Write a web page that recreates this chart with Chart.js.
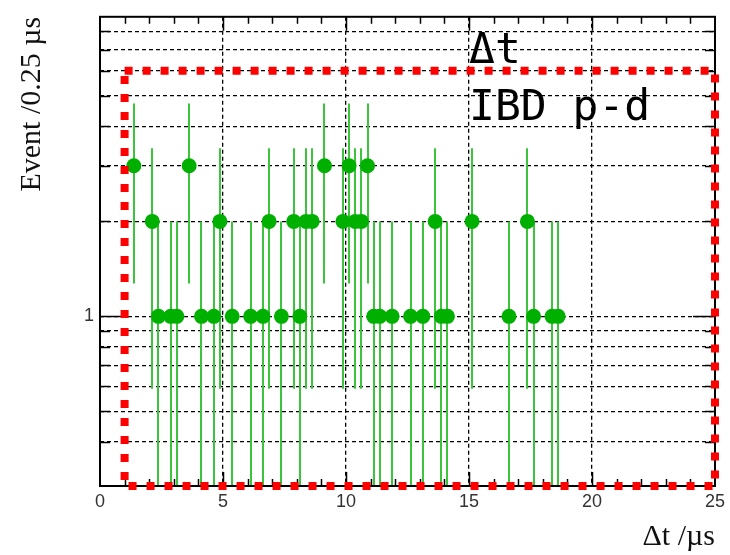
<!DOCTYPE html>
<html>
<head>
<meta charset="utf-8">
<script src="https://cdn.jsdelivr.net/npm/chart.js@4.4.1/dist/chart.umd.min.js"></script>
<style>
html, body { margin: 0; padding: 0; background: #fff; }
</style>
</head>
<body>
<canvas id="dtChart" width="730" height="555"></canvas>
<script>
// bin centres of the 0.25 us bins that have entries
var binCentres = [1.375, 2.125, 2.375, 2.875, 3.125, 3.625, 4.125, 4.625, 4.875, 5.375,
                  6.125, 6.625, 6.875, 7.375, 7.875, 8.125, 8.375, 8.625, 9.125, 9.875,
                  10.125, 10.375, 10.625, 10.875, 11.125, 11.375, 11.875, 12.625, 13.125, 13.625,
                  13.875, 14.125, 15.125, 16.625, 17.375, 17.625, 18.375, 18.625];
// events in each bin
var counts = [3, 2, 1, 1, 1, 3, 1, 1, 2, 1,
              1, 1, 2, 1, 2, 1, 2, 2, 3, 2,
              3, 2, 2, 3, 1, 1, 1, 1, 1, 2,
              1, 1, 2, 1, 2, 1, 1, 1];
// error bar half length
var errors = [1.73, 1.41, 1, 1, 1, 1.73, 1, 1, 1.41, 1,
              1, 1, 1.41, 1, 1.41, 1, 1.41, 1.41, 1.73, 1.41,
              1.73, 1.41, 1.41, 1.73, 1, 1, 1, 1, 1, 1.41,
              1, 1, 1.41, 1, 1.41, 1, 1, 1];

var xTickLabels = [0, 5, 10, 15, 20, 25];
var yGridValues = [0.4, 0.5, 0.6, 0.7, 0.8, 0.9, 1, 2, 3, 4, 5, 6, 7, 8];
var yLabelled = [1];
var cutBox = [1, 25, 0.29, 6];   // xmin, xmax, ymin, ymax of the red dashed box
var boxTexts = ['\u0394t', 'IBD p-d'];

// error bars drawn under the markers
var errorBars = {
    id: 'errorBars',
    beforeDatasetsDraw: function(chart) {
        var c = chart.ctx, a = chart.chartArea;
        var xs = chart.scales.x, ys = chart.scales.y;
        c.save();
        c.beginPath();
        c.rect(a.left, a.top, a.right - a.left, a.bottom - a.top);
        c.clip();
        c.strokeStyle = '#3cc43c';
        c.lineWidth = 2;
        for (var i = 0; i < binCentres.length; i++) {
            var px = Math.round(xs.getPixelForValue(binCentres[i]));
            var lo = counts[i] - errors[i];
            var yTop = ys.getPixelForValue(counts[i] + errors[i]);
            var yBot = lo > 0 ? ys.getPixelForValue(lo) : a.bottom;
            c.beginPath();
            c.moveTo(px, yTop);
            c.lineTo(px, yBot);
            c.stroke();
        }
        c.restore();
    }
};

// frame and inward ticks, like a ROOT canvas
var rootFrame = {
    id: 'rootFrame',
    afterDatasetsDraw: function(chart) {
        var c = chart.ctx, a = chart.chartArea;
        var xs = chart.scales.x, ys = chart.scales.y;
        c.save();
        c.strokeStyle = '#000';
        c.lineWidth = 1.5;
        c.beginPath();
        for (var t = 1; t < 25; t++) {
            var px = Math.round(xs.getPixelForValue(t)) + 0.5;
            var len = (t % 5 === 0) ? 14 : 7;
            c.moveTo(px, a.bottom); c.lineTo(px, a.bottom - len);
            c.moveTo(px, a.top); c.lineTo(px, a.top + len);
        }
        yGridValues.forEach(function(v) {
            var py = Math.round(ys.getPixelForValue(v)) + 0.5;
            var len = yLabelled.indexOf(v) >= 0 ? 22 : 10;
            c.moveTo(a.left, py); c.lineTo(a.left + len, py);
            c.moveTo(a.right, py); c.lineTo(a.right - len, py);
        });
        c.stroke();
        c.lineWidth = 2;
        c.strokeRect(a.left, a.top, a.right - a.left, a.bottom - a.top);
        c.restore();
    },
    afterDraw: function(chart) {
        var c = chart.ctx, a = chart.chartArea;
        var xs = chart.scales.x, ys = chart.scales.y;
        c.save();
        c.strokeStyle = '#ff0000';
        c.lineWidth = 8;
        c.setLineDash([8, 10]);
        var x0 = xs.getPixelForValue(cutBox[0]), x1 = xs.getPixelForValue(cutBox[1]);
        var y0 = ys.getPixelForValue(cutBox[2]), y1 = ys.getPixelForValue(cutBox[3]);
        c.strokeRect(x0, y1, x1 - x0, y0 - y1);
        c.setLineDash([]);
        c.fillStyle = '#000';
        c.font = '43px "DejaVu Sans Mono"';
        c.textBaseline = 'alphabetic';
        var tx = xs.getPixelForValue(15);
        c.fillText(boxTexts[0], tx, a.top + 46);
        c.fillText(boxTexts[1], tx, a.top + 103);
        c.restore();
    }
};

var ctx = document.getElementById('dtChart').getContext('2d');
var dtChart = new Chart(ctx, {
    type: 'scatter',
    data: {
        datasets: [{
            data: binCentres.map(function(x, i) { return {x: x, y: counts[i]}; }),
            pointRadius: 7.5,
            pointHoverRadius: 7.5,
            backgroundColor: '#00b000',
            borderWidth: 0
        }]
    },
    options: {
        responsive: false,
        animation: false,
        layout: { padding: { top: 12, right: 14, left: 0, bottom: 0 } },
        plugins: { legend: { display: false }, tooltip: { enabled: false } },
        scales: {
            x: {
                type: 'linear',
                min: 0,
                max: 25,
                afterBuildTicks: function(s) { s.ticks = xTickLabels.map(function(v) { return {value: v}; }); },
                afterFit: function(s) { s.height = 69; },
                ticks: { color: '#333', font: { family: 'Liberation Sans', size: 18 }, padding: 5, maxRotation: 0 },
                grid: {
                    drawTicks: false,
                    lineWidth: 1.3,
                    color: function(c) { return (c.tick && c.tick.value > 0 && c.tick.value < 25) ? '#000' : 'rgba(0,0,0,0)'; }
                },
                border: { display: false, dash: [4, 3] },
                title: {
                    display: true, text: '\u0394t /\u00b5s', align: 'end', color: '#111',
                    font: { family: 'Liberation Serif', size: 30 }, padding: { top: 0, bottom: 0 }
                }
            },
            y: {
                type: 'logarithmic',
                min: 0.29,
                max: 8.9,
                afterBuildTicks: function(s) { s.ticks = yGridValues.map(function(v) { return {value: v}; }); },
                afterFit: function(s) { s.width = 100; },
                ticks: {
                    autoSkip: false,
                    color: '#333',
                    font: { family: 'Liberation Sans', size: 18 },
                    padding: 6,
                    callback: function(v) { return yLabelled.indexOf(v) >= 0 ? String(v) : ''; }
                },
                grid: { drawTicks: false, lineWidth: 1.3, color: '#000' },
                border: { display: false, dash: [4, 3] },
                title: {
                    display: true, text: 'Event /0.25 \u00b5s', align: 'end', color: '#111',
                    font: { family: 'Liberation Serif', size: 30 }, padding: { top: 14, bottom: 0 }
                }
            }
        }
    },
    plugins: [errorBars, rootFrame]
});
</script>
</body>
</html>
